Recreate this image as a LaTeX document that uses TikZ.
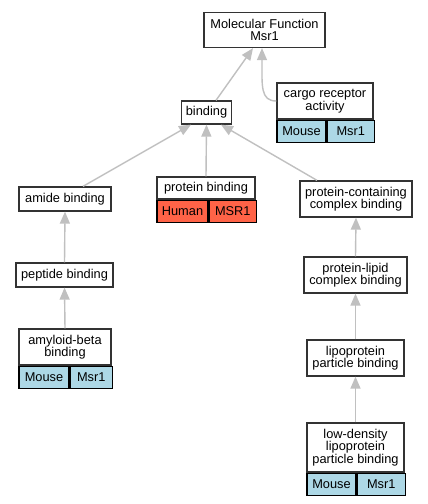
\documentclass[tikz,border=0pt]{standalone}
\usepackage{fontspec}
\setmainfont{Liberation Sans}
\usetikzlibrary{arrows.meta}

\definecolor{mouseblue}{HTML}{ADD8E6}
\definecolor{humanred}{HTML}{FF6347}
\definecolor{edgegray}{HTML}{C0C0C0}

\tikzset{
  term/.style={draw=black!80, line width=1.3pt, fill=white, inner sep=0pt, align=center,
    font=\fontsize{12.8}{12.5}\selectfont},
  cell/.style={draw=black, line width=1.3pt, inner sep=0pt, minimum height=22pt,
    anchor=north west, font=\fontsize{12.8}{12.5}\selectfont},
  isa/.style={draw=edgegray, line width=1.4pt,
    -{Triangle[length=12pt,width=10pt,fill=edgegray]}},
}

\begin{document}
\begin{tikzpicture}[x=1pt,y=-1pt]
  \useasboundingbox[fill=white] (0,0) rectangle (428,504);

  % top of the graph
  \node[term, minimum width=121pt, minimum height=35pt] (mf) at (264.5,30) {Molecular Function\\Msr1};
  \node[term, minimum width=50pt, minimum height=23pt] (binding) at (206.5,112.5) {binding};

  \node[term, minimum width=96pt, minimum height=36pt] (cargo) at (325,101) {cargo receptor\\activity};
  \node[cell, fill=mouseblue, minimum width=49pt] (cargo-sp) at (cargo.south west) {Mouse};
  \node[cell, fill=mouseblue, minimum width=47pt] (cargo-gene) at (cargo-sp.north east) {Msr1};

  % second row
  \node[term, minimum width=92pt, minimum height=24pt] (amide) at (65,199) {amide binding};

  \node[term, minimum width=98pt, minimum height=22pt] (protein) at (206,188) {protein binding};
  \node[cell, fill=humanred, minimum width=51pt] (protein-sp) at (protein.south west) {Human};
  \node[cell, fill=humanred, minimum width=47pt] (protein-gene) at (protein-sp.north east) {MSR1};

  \node[term, minimum width=112pt, minimum height=36pt] (pcc) at (356,199) {protein-containing\\complex binding};

  % left branch
  \node[term, minimum width=97pt, minimum height=24pt] (peptide) at (64.5,275) {peptide binding};
  \node[term, minimum width=92pt, minimum height=36pt] (amyloid) at (65,347) {amyloid-beta\\binding};
  \node[cell, fill=mouseblue, minimum width=50pt] (amyloid-sp) at (amyloid.south west) {Mouse};
  \node[cell, fill=mouseblue, minimum width=42pt] (amyloid-gene) at (amyloid-sp.north east) {Msr1};

  % right branch
  \node[term, minimum width=103pt, minimum height=36pt] (plc) at (355.5,275) {protein-lipid\\complex binding};
  \node[term, minimum width=97pt, minimum height=36pt] (lipo) at (355.5,358) {lipoprotein\\particle binding};
  \node[term, minimum width=97pt, minimum height=49pt] (ldl) at (355.5,447.5) {low-density\\lipoprotein\\particle binding};
  \node[cell, fill=mouseblue, minimum width=49pt] (ldl-sp) at (ldl.south west) {Mouse};
  \node[cell, fill=mouseblue, minimum width=48pt] (ldl-gene) at (ldl-sp.north east) {Msr1};

  % is_a edges
  \draw[isa] ([xshift=9.5pt]binding.north) -- ([xshift=-11.5pt]mf.south);
  \draw[isa] (cargo.west) .. controls +(-16,0) and +(0,38) .. ([xshift=-2.5pt]mf.south);
  \draw[isa] ([xshift=18pt]amide.north) -- ([xshift=-15.5pt]binding.south);
  \draw[isa] (protein.north) -- (binding.south);
  \draw[isa] ([xshift=-39pt]pcc.north) -- ([xshift=14.5pt]binding.south);
  \draw[isa] (peptide.north) -- (amide.south);
  \draw[isa] (amyloid.north) -- (peptide.south);
  \draw[isa] (plc.north) -- (pcc.south);
  \draw[isa] (lipo.north) -- (plc.south);
  \draw[isa] (ldl.north) -- (lipo.south);
\end{tikzpicture}
\end{document}
